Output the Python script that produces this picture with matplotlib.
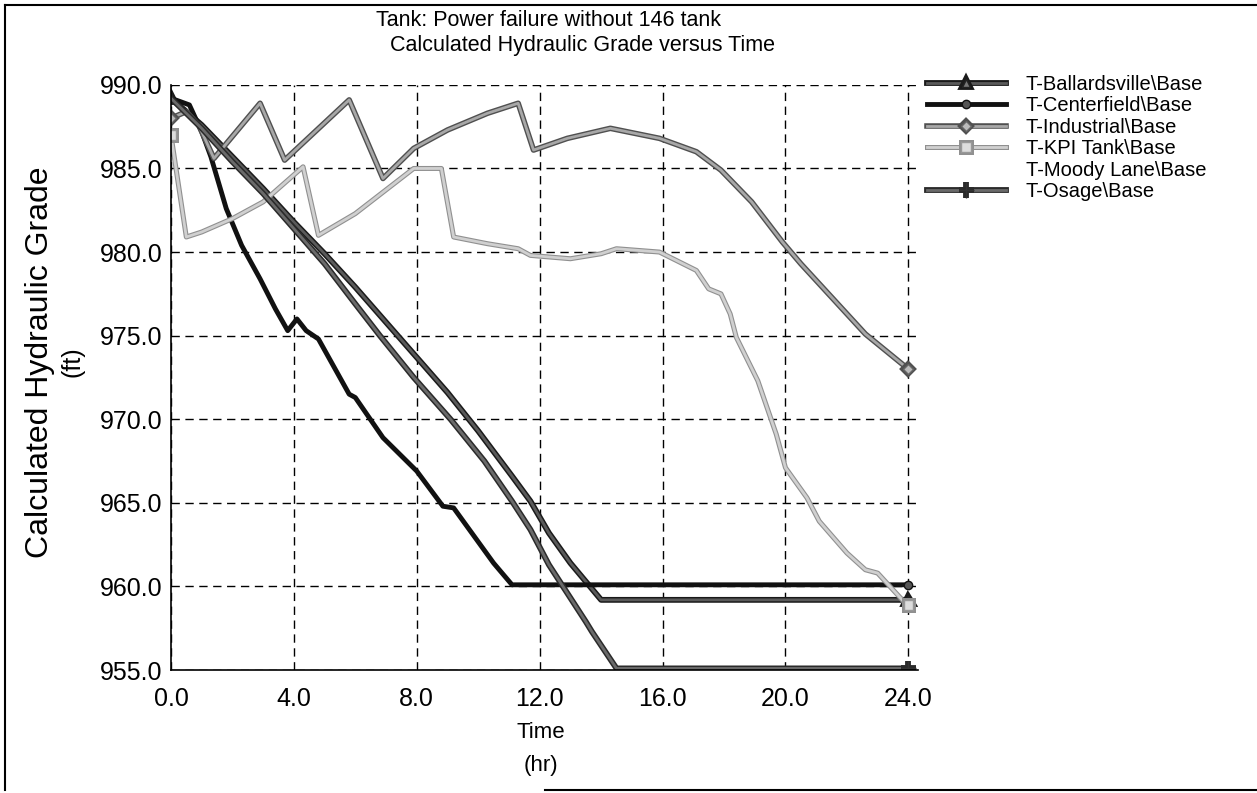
import matplotlib
matplotlib.use("Agg")
import matplotlib.pyplot as plt
import matplotlib.patheffects as pe
from matplotlib.lines import Line2D

plt.rcParams['font.family'] = ['Liberation Sans', 'DejaVu Sans']

# dados (tempo em h, carga em ft)
t_ball = [0, 1, 2, 3, 4, 5, 6, 7, 8, 9, 10, 11.1, 11.7, 12.3, 13, 14, 24]
h_ball = [989.2, 987.6, 985.7, 983.8, 981.8, 979.9, 977.9, 975.8, 973.7, 971.6, 969.3,
          966.6, 965.1, 963.2, 961.4, 959.2, 959.2]

t_cent = [0, 0.6, 1.0, 1.3, 1.8, 2.3, 2.9, 3.4, 3.8, 4.1, 4.4, 4.8, 5.8, 6.0, 6.9,
          8.0, 8.85, 9.2, 10.5, 11.1, 24]
h_cent = [989.2, 988.8, 987.2, 985.7, 982.6, 980.4, 978.4, 976.6, 975.3, 976.0, 975.3,
          974.8, 971.5, 971.3, 968.9, 966.9, 964.8, 964.7, 961.4, 960.1, 960.1]

t_ind = [0, 0.5, 0.9, 1.4, 2.9, 3.7, 5.8, 6.9, 7.9, 9.0, 10.3, 11.3, 11.8, 12.9, 14.3,
         15.9, 17.1, 17.9, 18.9, 19.9, 20.5, 21.5, 22.6, 24]
h_ind = [988.0, 988.4, 987.6, 985.6, 988.9, 985.5, 989.1, 984.4, 986.2, 987.3, 988.3,
         988.9, 986.1, 986.8, 987.4, 986.8, 986.0, 984.9, 983.0, 980.6, 979.3, 977.3,
         975.1, 973.0]

t_kpi = [0, 0.5, 1.0, 2.0, 3.0, 4.3, 4.8, 6.0, 7.9, 8.8, 9.2, 10.3, 11.3, 11.7, 13.0,
         14.0, 14.5, 15.9, 17.1, 17.5, 17.9, 18.2, 18.4, 19.1, 19.7, 20.0, 20.7, 21.1,
         22.0, 22.6, 23.0, 23.9, 24]
h_kpi = [987.0, 980.9, 981.2, 982.0, 983.0, 985.1, 981.0, 982.3, 985.0, 985.0, 980.9,
         980.5, 980.2, 979.8, 979.6, 979.9, 980.2, 980.0, 978.9, 977.8, 977.5, 976.3,
         974.9, 972.3, 969.1, 967.1, 965.3, 963.9, 962.0, 961.0, 960.8, 959.0, 958.9]

t_moody = []
h_moody = []

t_osage = [0, 1, 2, 3, 4, 5, 6, 6.8, 7.9, 9.1, 10.2, 11.1, 11.7, 12.3, 13.5, 13.7, 14.5, 24]
h_osage = [989.2, 987.4, 985.4, 983.5, 981.4, 979.3, 976.9, 975.0, 972.5, 970.0, 967.5,
           965.1, 963.4, 961.3, 957.9, 957.3, 955.1, 955.1]

labels = ["T-Ballardsville\\Base", "T-Centerfield\\Base", "T-Industrial\\Base",
          "T-KPI Tank\\Base", "T-Moody Lane\\Base", "T-Osage\\Base"]

x_ticks = [0, 4, 8, 12, 16, 20, 24]
y_ticks = [955, 960, 965, 970, 975, 980, 985, 990]

fig = plt.figure(figsize=(12.57, 7.93), dpi=100)
ax = fig.add_axes([0.136, 0.155, 0.594, 0.738])


def outline(w, c):
    return [pe.Stroke(linewidth=w, foreground=c), pe.Normal()]


ax.plot(t_ball, h_ball, color="#5a5a5a", lw=2, path_effects=outline(4.2, "#1a1a1a"),
        marker="^", ms=6, mfc="#777777", mec="#222222", markevery=[0, -1], label=labels[0])
ax.plot(t_cent, h_cent, color="#111111", lw=3.5,
        marker="o", ms=6, mfc="#555555", mec="#111111", markevery=[-1], label=labels[1])
ax.plot(t_ind, h_ind, color="#a8a8a8", lw=2, path_effects=outline(4, "#505050"),
        marker="D", ms=5, mfc="#bbbbbb", mec="#666666", markevery=[0, -1], label=labels[2])
ax.plot(t_kpi, h_kpi, color="#d0d0d0", lw=2, path_effects=outline(3.6, "#909090"),
        marker="s", ms=7, mfc="#dddddd", mec="#999999", markevery=[0, -1], label=labels[3])
ax.plot(t_moody, h_moody, color="white", lw=2, label=labels[4])
ax.plot(t_osage, h_osage, color="#6a6a6a", lw=2, path_effects=outline(4.2, "#2a2a2a"),
        marker="+", ms=11, mew=1.0, mec="#333333", markevery=[-1], label=labels[5])

ax.set_xlim(0, 24.3)
ax.set_ylim(955, 990)
ax.set_xticks(x_ticks)
ax.set_yticks(y_ticks)
ax.set_xticklabels([f"{v:.1f}" for v in x_ticks])
ax.set_yticklabels([f"{v:.1f}" for v in y_ticks])
ax.tick_params(length=0, labelsize=18, pad=6)
ax.tick_params(axis="x", pad=12)
ax.grid(True, color="black", linestyle=(0, (6, 4)), linewidth=1)
for s in ["top", "right"]:
    ax.spines[s].set_visible(False)
ax.spines["left"].set_linewidth(1.2)
ax.spines["bottom"].set_linewidth(1.2)

fig.text(549 / 1257, 1 - 20 / 793, "Tank: Power failure without 146 tank",
         ha="center", va="center", fontsize=15.5)
fig.text(582 / 1257, 1 - 45 / 793, "Calculated Hydraulic Grade versus Time",
         ha="center", va="center", fontsize=15.5)
fig.text(40 / 1257, 1 - 362 / 793, "Calculated Hydraulic Grade", rotation=90,
         ha="center", va="center", fontsize=23)
fig.text(72 / 1257, 1 - 362 / 793, "(ft)", rotation=90,
         ha="center", va="center", fontsize=18)
fig.text(541 / 1257, 1 - 733 / 793, "Time", ha="center", va="center", fontsize=16)
fig.text(541 / 1257, 1 - 765 / 793, "(hr)", ha="center", va="center", fontsize=16)

ax.legend(loc="upper left", bbox_to_anchor=(927 / 1257, 1 - 75 / 793),
          bbox_transform=fig.transFigure, frameon=False, fontsize=14.5,
          handlelength=3.9, handletextpad=1.0, labelspacing=0.12, numpoints=1,
          borderaxespad=0, borderpad=0)

# moldura da página digitalizada
fig.add_artist(Line2D([5 / 1257, 5 / 1257], [3 / 793, 1 - 5 / 793], color="black", lw=1.5))
fig.add_artist(Line2D([5 / 1257, 1], [1 - 5 / 793, 1 - 5 / 793], color="black", lw=1.5))
fig.add_artist(Line2D([545 / 1257, 1], [3 / 793, 3 / 793], color="black", lw=1.5))

fig.savefig("out.png", dpi=100)
